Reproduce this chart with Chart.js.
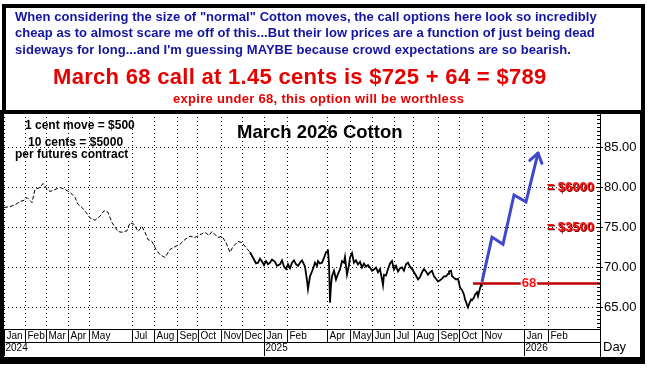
<!DOCTYPE html>
<html>
<head>
<meta charset="utf-8">
<script src="https://cdn.jsdelivr.net/npm/chart.js@4.4.1/dist/chart.umd.min.js"></script>
<style>
  body { margin: 0; background: #fff; }
  #wrap { position: relative; width: 649px; height: 369px; overflow: hidden; font-family: Arial, "Liberation Sans", sans-serif; }
  #chart { position: absolute; left: 0; top: 0; }
  .t { position: absolute; white-space: nowrap; font-weight: bold; }
  .blue { color: #1414a2; font-size: 13px; line-height: 16px; letter-spacing: 0.05px; }
  .red { color: #e80000; }
  .note { color: #000; font-size: 12px; line-height: 14px; }
  .bar { position: absolute; background: #000; }
  #topbox { position: absolute; left: 2px; top: 4px; width: 635px; height: 102px; border: 4px solid #000; }
</style>
</head>
<body>
<div id="wrap">
  <canvas id="chart" width="649" height="369"></canvas>
  <div id="topbox"></div>
  <div class="bar" style="left:0;top:110px;width:4px;height:254px"></div>
  <div class="bar" style="left:640px;top:110px;width:5px;height:254px"></div>
  <div class="bar" style="left:0;top:357px;width:645px;height:7px"></div>

  <div class="t blue" style="left:15px;top:9px">When considering the size of "normal" Cotton moves, the call options here look so incredibly</div>
  <div class="t blue" style="left:15px;top:25px">cheap as to almost scare me off of this...But their low prices are a function of just being dead</div>
  <div class="t blue" style="left:15px;top:42px">sideways for long...and I'm guessing MAYBE because crowd expectations are so bearish.</div>
  <div class="t red" style="left:53px;top:64px;font-size:22px;line-height:26px;letter-spacing:0.3px">March 68 call at 1.45 cents is $725 + 64 = $789</div>
  <div class="t red" style="left:173px;top:91px;font-size:13px;line-height:16px;letter-spacing:0.3px">expire under 68, this option will be worthless</div>

  <div class="t" style="left:237px;top:121px;font-size:18.5px;line-height:22px;color:#000">March 2026 Cotton</div>
  <div class="t note" style="left:25px;top:118px">1 cent move = $500</div>
  <div class="t note" style="left:28px;top:135px">10 cents = $5000</div>
  <div class="t note" style="left:15px;top:147px">per futures contract</div>
</div>
<script>
// daily bar index (trading days from Jan 2 2024) and price in cents
var priceDay = [0, 6, 12, 16, 20, 23, 28, 31, 36, 39, 43, 46, 51, 56, 61, 66, 71, 74, 78, 82,
  86, 91, 96, 100, 104, 108, 114, 118, 123, 126, 130, 134, 138, 141, 144, 148, 152, 156, 161, 166,
  171, 176, 181, 186, 191, 196, 201, 205, 208, 214, 218, 222, 226, 229, 234, 238, 242, 246,
  250, 252, 254, 256, 258, 260, 262, 264, 266, 268, 271, 273, 276, 278, 280, 282, 284, 286, 288, 290, 292, 294,
  296, 298, 300, 301, 303, 304, 306, 308, 310, 311, 313, 314, 316, 318, 320, 322, 324, 325, 326, 327,
  328, 330, 332, 334, 336, 338, 340, 341, 343, 345, 346, 348, 350, 352, 354, 356, 358, 360, 362, 364,
  366, 368, 370, 372, 374, 376, 378, 379, 380, 382, 384, 386, 388,
  390, 392, 394, 396, 398, 400, 402, 404, 406, 408, 410, 412, 414, 416, 418, 420, 422, 424, 426, 428,
  430, 432, 434, 436, 438, 440, 442, 444, 445, 447, 448, 450, 452, 454, 456, 458, 460, 461, 462, 463,
  464, 465, 467, 468, 470, 471, 473, 474, 476, 477, 478];
var priceClose = [77.5, 77.6, 77.9, 78.25, 78.4, 78.75, 78.1, 79.75, 80.0, 80.5, 79.8, 79.5, 79.75, 80.0, 79.75, 79.4, 78.75, 77.9, 77.5, 76.9,
  76.2, 75.9, 76.4, 77.1, 76.9, 75.6, 74.5, 74.4, 74.6, 75.6, 75.4, 74.5, 75.1, 74.4, 73.5, 73.25, 72.25, 71.6, 71.25, 72.25,
  72.6, 72.9, 73.5, 73.9, 73.75, 74.1, 74.4, 74.0, 74.5, 73.75, 73.9, 73.1, 71.9, 72.6, 73.25, 73.1, 72.5, 71.9,
  71.0, 70.5, 70.6, 71.1, 70.75, 70.3, 70.8, 70.4, 70.6, 71.0, 70.7, 70.2, 70.4, 70.9, 70.1, 69.8, 70.4, 69.9, 70.6, 70.9, 70.4, 70.2,
  70.6, 70.9, 70.4, 70.1, 68.4, 67.3, 68.9, 69.5, 70.2, 70.6, 70.2, 70.8, 70.5, 70.6, 71.2, 71.9, 72.1, 70.5, 65.6, 67.8,
  68.9, 69.6, 68.5, 69.2, 69.75, 70.8, 70.6, 71.3, 69.1, 70.3, 71.25, 71.8, 70.6, 70.9, 70.4, 70.7, 70.0, 70.5, 70.1, 70.3,
  70.0, 69.6, 69.75, 70.0, 69.4, 69.8, 68.5, 67.8, 69.1, 69.0, 69.8, 70.5, 70.8,
  69.75, 70.2, 69.5, 69.9, 70.0, 69.6, 70.4, 70.6, 70.1, 69.8, 69.4, 69.0, 68.5, 68.8, 69.4, 69.8, 69.5, 69.1, 69.4, 69.6,
  68.9, 68.6, 68.25, 68.4, 68.6, 68.9, 68.9, 69.2, 69.5, 69.6, 68.9, 68.7, 68.5, 68.6, 67.5, 67.2, 66.6, 66.0, 65.75, 65.3,
  65.0, 65.4, 66.0, 65.9, 66.25, 66.6, 66.9, 66.4, 67.4, 67.8, 67.6];

// hand drawn projection arrow
var arrowDay = [478, 488, 499, 510, 522, 534];
var arrowPrice = [68.2, 73.8, 72.9, 79.06, 78.2, 84.3];

// strike line
var strikeLevel = 68;
var strikeDays = [469, 596];
var strikeLabelDay = 525;

// payoff notes at the right
var payoffLevels = [80, 75];
var payoffText = ['= $6000', '= $3500'];

// axes
var monthDays = [0, 21, 42, 64, 85, 128, 150, 173, 194, 217, 238, 260, 283, 323, 346, 368, 390, 410, 434, 455, 478, 520, 544];
var monthLabels = ['Jan', 'Feb', 'Mar', 'Apr', 'May', 'Jul', 'Aug', 'Sep', 'Oct', 'Nov', 'Dec', 'Jan', 'Feb', 'Apr', 'May', 'Jun', 'Jul', 'Aug', 'Sep', 'Oct', 'Nov', 'Jan', 'Feb'];
var yearDays = [0, 260, 520];
var yearLabels = ['2024', '2025', '2026'];
var yTicks = [65, 70, 75, 80, 85];

function pts(xs, ys) {
    var out = [];
    for (var i = 0; i < xs.length; i++) out.push({ x: xs[i], y: ys[i] });
    return out;
}

function seg(ctx, x1, y1, x2, y2) {
    ctx.beginPath();
    ctx.moveTo(x1, y1);
    ctx.lineTo(x2, y2);
    ctx.stroke();
}

var axisPlugin = {
    id: 'axisPlugin',
    afterDatasetsDraw: function (chart) {
        var ctx = chart.ctx, a = chart.chartArea, xs = chart.scales.x, ys = chart.scales.y;
        ctx.save();
        ctx.strokeStyle = '#000';
        ctx.fillStyle = '#000';
        ctx.lineWidth = 1;

        // y axis line + ticks
        seg(ctx, a.right + 0.5, a.top, a.right + 0.5, 357);
        for (var v = 62.5; v <= 89.2; v += 0.5) {
            var py = Math.round(ys.getPixelForValue(v)) + 0.5;
            seg(ctx, a.right - 3, py, a.right, py);
        }
        ctx.font = '13px Arial';
        ctx.textAlign = 'left';
        ctx.textBaseline = 'middle';
        yTicks.forEach(function (t) {
            var py = Math.round(ys.getPixelForValue(t)) + 0.5;
            seg(ctx, a.right, py, a.right + 3, py);
            ctx.fillText(t.toFixed(2), a.right + 4, py);
        });

        // x axis box
        seg(ctx, a.left, a.bottom + 0.5, a.right, a.bottom + 0.5);
        seg(ctx, a.left, a.bottom + 13.5, a.right, a.bottom + 13.5);
        ctx.font = '10px Arial';
        monthDays.forEach(function (d, i) {
            var px = Math.round(xs.getPixelForValue(d)) + 0.5;
            seg(ctx, px, a.bottom, px, a.bottom + 13);
            ctx.fillText(monthLabels[i], px + 2, a.bottom + 7.5);
        });
        yearDays.forEach(function (d, i) {
            var px = Math.round(xs.getPixelForValue(d)) + 0.5;
            seg(ctx, px, a.bottom + 14, px, a.bottom + 27);
            ctx.fillText(yearLabels[i], px + 1, a.bottom + 19.5);
        });
        ctx.font = '13px Arial';
        ctx.fillText('Day', a.right + 3, a.bottom + 18);

        // payoff labels
        ctx.font = 'bold 13px Arial';
        ctx.textAlign = 'right';
        payoffLevels.forEach(function (lv, i) {
            var py = ys.getPixelForValue(lv);
            ctx.fillStyle = '#7a0000';
            ctx.fillText(payoffText[i], a.right - 5, py + 1);
            ctx.fillStyle = '#ff1010';
            ctx.fillText(payoffText[i], a.right - 6, py);
        });

        // strike label
        ctx.textAlign = 'center';
        var sx = xs.getPixelForValue(strikeLabelDay), sy = ys.getPixelForValue(strikeLevel);
        ctx.lineWidth = 3;
        ctx.strokeStyle = '#fff';
        ctx.strokeText('68', sx, sy);
        ctx.fillStyle = '#ff1010';
        ctx.fillText('68', sx, sy);

        // arrow head
        var pts2 = chart.getDatasetMeta(2).data;
        var p1 = pts2[pts2.length - 2], p2 = pts2[pts2.length - 1];
        var ang = Math.atan2(p2.y - p1.y, p2.x - p1.x);
        ctx.strokeStyle = '#3f48cc';
        ctx.lineWidth = 3;
        ctx.lineCap = 'round';
        var L = 11, w = 0.6;
        seg(ctx, p2.x, p2.y, p2.x - L * Math.cos(ang - w), p2.y - L * Math.sin(ang - w));
        seg(ctx, p2.x, p2.y, p2.x - L * Math.cos(ang + w), p2.y - L * Math.sin(ang + w));
        ctx.restore();
    }
};

var gridOpts = { color: '#000', lineWidth: 1, drawTicks: false };

new Chart(document.getElementById('chart'), {
    type: 'line',
    data: {
        datasets: [
            {
                data: pts(priceDay, priceClose),
                borderColor: '#000',
                borderWidth: 1.8,
                pointRadius: 0,
                segment: {
                    borderDash: function (c) { return c.p0.parsed.x < 246 ? [4, 2] : undefined; },
                    borderWidth: function (c) { return c.p0.parsed.x < 246 ? 1 : 1.8; }
                }
            },
            {
                data: pts(strikeDays, [strikeLevel, strikeLevel]),
                borderColor: '#c00000',
                borderWidth: 2.5,
                pointRadius: 0
            },
            {
                data: pts(arrowDay, arrowPrice),
                borderColor: '#3f48cc',
                borderWidth: 3,
                pointRadius: 0,
                borderJoinStyle: 'miter'
            }
        ]
    },
    options: {
        responsive: false,
        animation: false,
        layout: { padding: { left: 4, top: 113, right: 49, bottom: 40 } },
        plugins: { legend: { display: false }, tooltip: { enabled: false } },
        scales: {
            x: {
                type: 'linear', min: 0, max: 596,
                afterBuildTicks: function (s) { s.ticks = monthDays.map(function (v) { return { value: v }; }); },
                afterFit: function (s) { s.height = 0; },
                ticks: { display: false },
                grid: gridOpts,
                border: { display: false, dash: [1, 3] }
            },
            y: {
                position: 'right', min: 62.31, max: 89.31,
                afterBuildTicks: function (s) { s.ticks = yTicks.map(function (v) { return { value: v }; }); },
                afterFit: function (s) { s.width = 0; },
                ticks: { display: false },
                grid: gridOpts,
                border: { display: false, dash: [1, 3] }
            }
        }
    },
    plugins: [axisPlugin]
});
</script>
</body>
</html>
